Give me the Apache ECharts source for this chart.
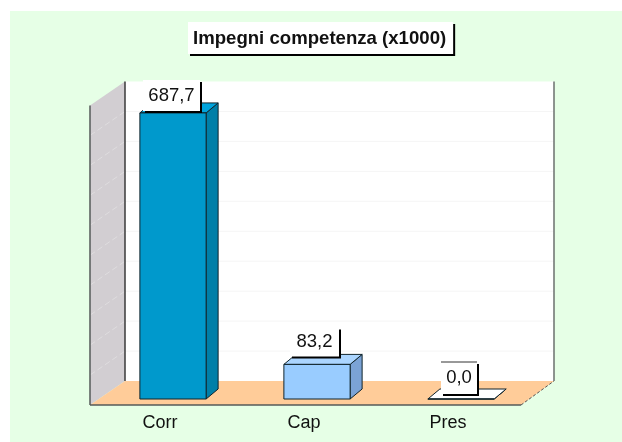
<!DOCTYPE html>
<html>
<head>
<meta charset="utf-8">
<style>
  html, body { margin: 0; padding: 0; background: #fff; }
  #chart { width: 622px; height: 442px; }
</style>
</head>
<body>
<div id="chart"></div>
<script src="https://cdn.jsdelivr.net/npm/echarts@6/dist/echarts.min.js"></script>
<script>
const titleText = 'Impegni competenza (x1000)'
const categories = ['Corr', 'Cap', 'Pres']
const values = [687.7, 83.2, 0.0]
const valueLabels = ['687,7', '83,2', '0,0']

// colori: fronte, lato, cima
const barColors = [
  ['#0099cc', '#007fa8', '#00a3dc'],
  ['#99ccff', '#7ba3d6', '#abd5ff'],
  ['#ffffff', '#ffffff', '#ffffff']
]
// riquadri delle etichette, relativi alla cima della barra
const labelBoxes = [
  { dx: -30, dy: -33, w: 57, h: 31, topLine: false },
  { dx: -27, dy: -37, w: 49, h: 29, topLine: false },
  { dx: -20, dy: -37, w: 36, h: 32, topLine: true }
]

const axisMax = 720
const axisStep = 72
const edgeColor = '#555a58'

const chart = echarts.init(document.getElementById('chart'))

// pareti, pavimento e griglia dietro le barre
const renderFrame = (params, api) => {
  const sys = params.coordSys
  const base = api.coord([0, 0])[1]
  const fl = sys.x - 11
  const fr = sys.x + sys.width - 12
  const fy = base + 6
  const bl = fl + 35
  const br = fr + 33
  const by = fy - 24
  const children = []
  const height = by - (api.coord([0, axisMax])[1] - 18)

  children.push({ type: 'rect', shape: { x: bl, y: by - height, width: br - bl, height }, style: { fill: '#ffffff' } })
  children.push({
    type: 'polygon',
    shape: { points: [[fl, fy], [bl, by], [bl, by - height], [fl, fy - height]] },
    style: { fill: '#d2ced2' }
  })
  for (let v = axisStep; v <= axisMax - axisStep; v += axisStep) {
    const y = api.coord([0, v])[1] - 18
    children.push({ type: 'line', shape: { x1: bl, y1: y, x2: br, y2: y }, style: { stroke: '#f5f5f5', lineWidth: 1 } })
    children.push({ type: 'line', shape: { x1: fl, y1: y + 24, x2: bl, y2: y }, style: { stroke: '#dfdddf', lineWidth: 1, lineDash: [6, 3] } })
  }
  children.push({
    type: 'polygon',
    shape: { points: [[fl, fy], [bl, by], [br, by], [fr, fy]] },
    style: { fill: '#ffcc99' }
  })
  children.push({ type: 'line', shape: { x1: bl, y1: by - height, x2: bl, y2: by }, style: { stroke: '#3a3a3a', lineWidth: 1.5 } })
  children.push({ type: 'line', shape: { x1: br, y1: by - height, x2: br, y2: by }, style: { stroke: '#6b716e', lineWidth: 1.5 } })
  children.push({ type: 'line', shape: { x1: fl, y1: fy - height, x2: fl, y2: fy }, style: { stroke: edgeColor, lineWidth: 1.5 } })
  children.push({ type: 'line', shape: { x1: fl, y1: fy, x2: fr, y2: fy }, style: { stroke: edgeColor, lineWidth: 1.5 } })
  children.push({ type: 'line', shape: { x1: fr, y1: fy, x2: br, y2: by }, style: { stroke: '#555', lineWidth: 1, lineDash: [3, 2] } })
  return { type: 'group', children }
}

// barra con lato e cima, più la sua etichetta
const renderBar = (params, api) => {
  const i = api.value(0)
  const top = api.coord([i, api.value(1)])
  const bottom = api.coord([i, 0])
  const w = api.size([1, 0])[0] * 0.46
  const x0 = top[0] - w / 2
  const x1 = top[0] + w / 2
  const dx = 12
  const dy = 10
  const colors = barColors[i]
  const box = labelBoxes[i]
  const stroke = { stroke: '#10242c', lineWidth: 1 }
  const boxX = top[0] + box.dx
  const boxY = top[1] + box.dy
  const children = [
    { type: 'polygon', shape: { points: [[x1, bottom[1]], [x1 + dx, bottom[1] - dy], [x1 + dx, top[1] - dy], [x1, top[1]]] }, style: { fill: colors[1], ...stroke } },
    { type: 'polygon', shape: { points: [[x0, top[1]], [x0 + dx, top[1] - dy], [x1 + dx, top[1] - dy], [x1, top[1]]] }, style: { fill: colors[2], ...stroke } },
    { type: 'rect', shape: { x: x0, y: top[1], width: w, height: bottom[1] - top[1] }, style: { fill: colors[0], ...stroke } },
    { type: 'rect', shape: { x: boxX + 2, y: boxY + 2, width: box.w, height: box.h }, style: { fill: '#000000' } },
    { type: 'rect', shape: { x: boxX, y: boxY, width: box.w, height: box.h }, style: { fill: '#ffffff' } },
    {
      type: 'text',
      style: {
        x: boxX + box.w / 2,
        y: boxY + box.h / 2,
        text: valueLabels[i],
        align: 'center',
        verticalAlign: 'middle',
        fill: '#111111',
        font: '18.5px "Liberation Sans", Arial, sans-serif'
      }
    }
  ]
  if (box.topLine) {
    children.push({ type: 'line', shape: { x1: boxX, y1: boxY, x2: boxX + box.w, y2: boxY }, style: { stroke: '#333333', lineWidth: 1 } })
  }
  return { type: 'group', children }
}

chart.setOption({
  animation: false,
  backgroundColor: '#ffffff',
  graphic: [
    {
      type: 'rect',
      z: -10,
      silent: true,
      shape: { x: 10, y: 11, width: 612, height: 431 },
      style: { fill: '#e6ffe6' }
    }
  ],
  title: {
    text: titleText,
    left: 188,
    top: 22,
    padding: [7, 7, 6, 5],
    backgroundColor: '#ffffff',
    shadowColor: '#000000',
    shadowBlur: 0,
    shadowOffsetX: 2,
    shadowOffsetY: 2,
    textStyle: {
      color: '#111111',
      fontFamily: '"Liberation Sans", Arial, sans-serif',
      fontWeight: 'bold',
      fontSize: 18.6
    }
  },
  grid: { left: 101, top: 99.5, width: 432, height: 299.5 },
  xAxis: {
    type: 'category',
    data: categories,
    axisLine: { show: false },
    axisTick: { show: false },
    axisLabel: {
      margin: 15,
      padding: [0, 26, 0, 0],
      color: '#111111',
      fontFamily: '"Liberation Sans", Arial, sans-serif',
      fontSize: 18
    }
  },
  yAxis: {
    type: 'value',
    min: 0,
    max: axisMax,
    interval: axisStep,
    show: false
  },
  series: [
    {
      type: 'custom',
      name: 'frame',
      clip: false,
      z: 1,
      silent: true,
      renderItem: renderFrame,
      data: [[0, 0]]
    },
    {
      type: 'custom',
      name: 'Impegni',
      clip: false,
      z: 2,
      renderItem: renderBar,
      encode: { x: 0, y: 1 },
      data: values.map((v, i) => [i, v])
    }
  ]
})
</script>
</body>
</html>
